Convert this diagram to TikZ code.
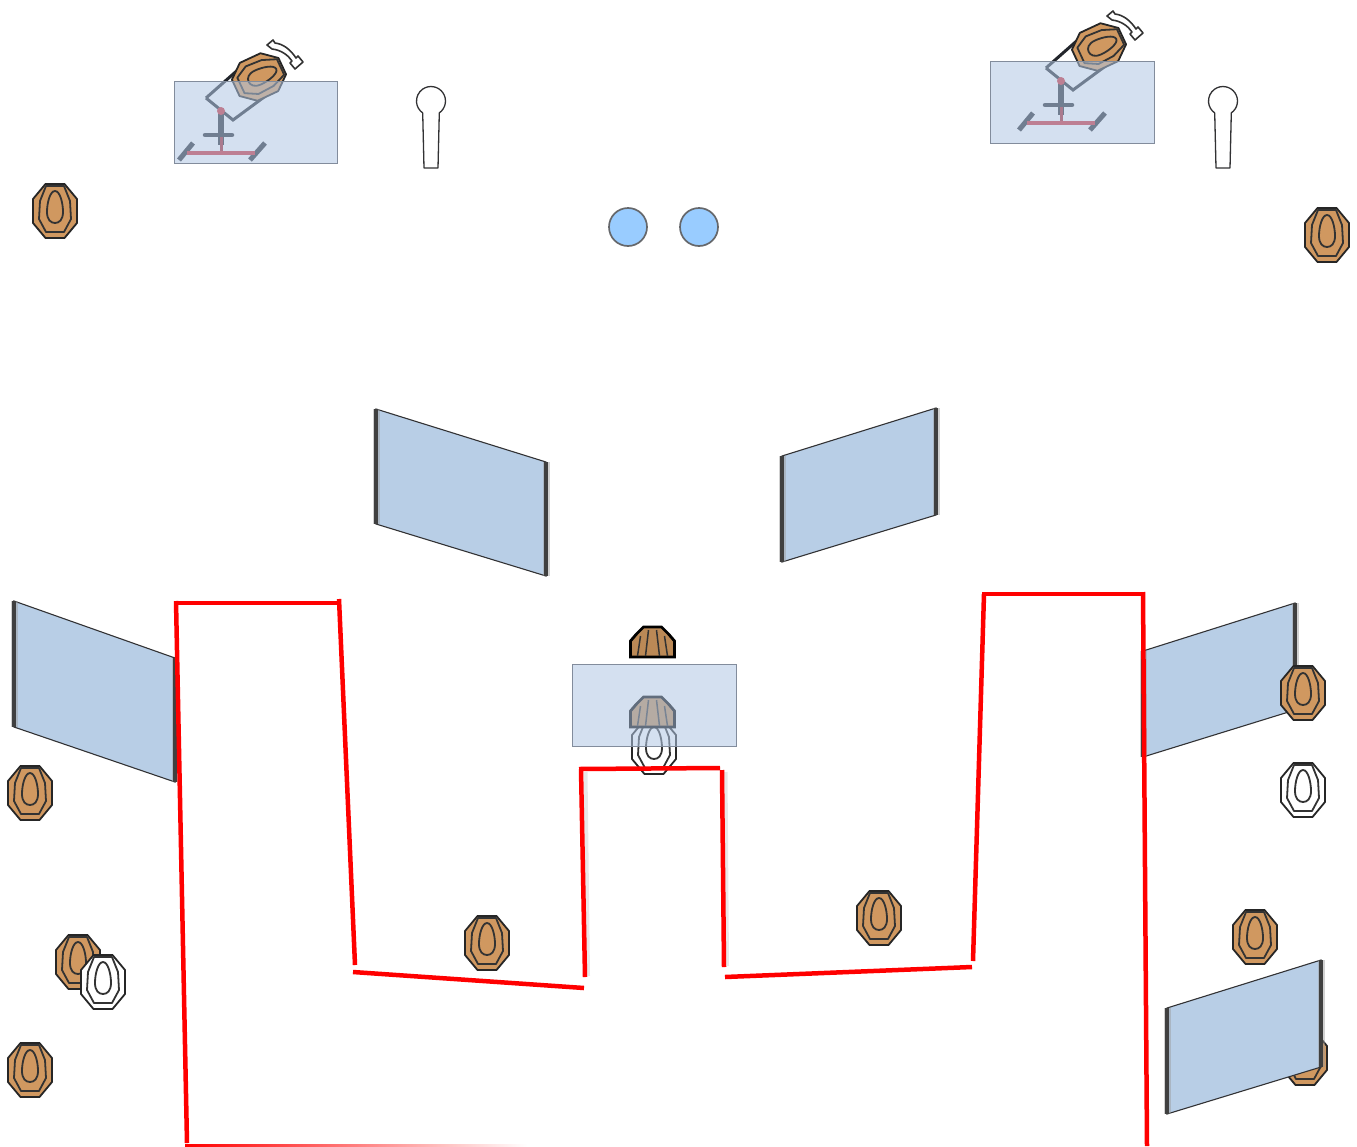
\documentclass[tikz,border=0pt]{standalone}
\usepackage{tikz}
\usetikzlibrary{calc}
\definecolor{hallbrown}{RGB}{208,152,96}
\definecolor{hallpanel}{RGB}{184,206,230}
\definecolor{hallbox}{RGB}{177,199,228}
\definecolor{hallframe}{RGB}{130,140,156}
\definecolor{halldark}{RGB}{50,50,52}
\definecolor{hallgray}{RGB}{35,38,44}
\definecolor{hallrose}{RGB}{205,40,50}
\definecolor{hallsky}{RGB}{153,204,255}
\definecolor{hallred}{RGB}{255,0,0}

\begin{document}
\begin{tikzpicture}[
      x=1pt, y=-1pt,
      target/.pic={
        \draw[fill=#1, draw=black!85, line width=1.8pt, line join=round]
          (-9.5,-27) -- (9.5,-27) -- (22,-12) -- (22,12) -- (9.5,27) -- (-9.5,27) -- (-22,12) -- (-22,-12) -- cycle;
        \draw[draw=black!80, line width=1.8pt, line join=round]
          (-9,-25) -- (9,-25) -- (15,-10) -- (16,8) -- (9,21) -- (-9,21) -- (-16,8) -- (-15,-10) -- cycle;
        \draw[draw=black!80, line width=1.8pt]
          (0,-20) .. controls (5,-20) and (8,-8) .. (8,1) .. controls (8,9) and (4,12) .. (0,12)
          .. controls (-4,12) and (-8,9) .. (-8,1) .. controls (-8,-8) and (-5,-20) .. (0,-20) -- cycle;
      },
      dome/.pic={
        \draw[fill=hallbrown!90!black, draw=black, line width=2.8pt, line join=miter]
          (-22,15) -- (22,15) -- (22,-1) -- (16,-8) -- (9,-15) -- (-9,-15) -- (-16,-8) -- (-22,-1) -- cycle;
        \draw[draw=black!80, line width=1.5pt]
          (-4,-12) -- (-7,14) (4,-12) -- (7,14) (-12,-6) -- (-15,14) (12,-6) -- (15,14);
      },
      tripod/.pic={
        \draw[hallgray, line width=3pt] (-15,-55) -- (12,-33) -- (50,-61) (-15,-55) -- (19,-85);
        \draw[hallgray, line width=6pt] (0,-40) -- (0,-8);
        \draw[hallrose!80!black, line width=3pt] (0,-20) -- (0,0);
        \draw[hallgray, line width=4.5pt, line cap=round] (-16,-18) -- (11,-18);
        \draw[hallgray, line width=5pt] (-42,7) -- (-28,-10) (29,7) -- (44,-10);
        \draw[hallrose, line width=3.5pt] (-34,0) -- (34,0);
        \fill[hallrose] (0,-42) circle (4);
      },
      swivel/.pic={
        \draw[fill=white, draw=black!80, line width=1.6pt, line join=round]
          (-18,-11) -- (-12,-16) -- (-10,-13) .. controls (-2,-12) and (5,-7) .. (11,2)
          -- (13,0) -- (18,6) -- (10,13) -- (5,7) -- (7,5) .. controls (3,-1) and (-4,-6) .. (-13,-7) -- cycle;
      },
      micstand/.pic={
        \draw[fill=white, draw=halldark, line width=1.3pt, line join=round]
          (-8.3,11.9) -- (-7,67) -- (7,67) -- (8.3,11.9)
          arc[start angle=55, end angle=-235, radius=14.5] -- cycle;
      },
      wallside/.style={line width=3.5pt, draw=black!75},
      wallglow/.style={line width=7pt, draw=black!40, draw opacity=.45},
      screenbox/.style={fill=hallbox, fill opacity=.55, draw=hallframe, line width=.7pt},
      redwall/.style={draw=hallred, line width=4.5pt},
      softedge/.style={draw=black!9, line width=4pt}
    ]
      \useasboundingbox (0,0) rectangle (1357,1146);

      % targets lying under the walls and boxes
      \foreach \tx/\ty in {55/211, 1327/235, 30/793, 487/943, 879/918, 1255/937, 78/962, 30/1070, 1305/1058}
        \pic at (\tx,\ty) {target=hallbrown};
      \foreach \tx/\ty in {1303/790, 103/982, 654/747}
        \pic at (\tx,\ty) {target=white};

      % tripods
      \pic at (221,153) {tripod};
      \pic at (1061,123) {tripod};
      \pic[rotate=-65, scale=.95] at (259,77) {target=hallbrown};
      \pic[rotate=-65, scale=.95] at (1099,47) {target=hallbrown};
      \pic at (285,56) {swivel};
      \pic at (1125,27) {swivel};

      % stands and balls
      \pic at (431,101) {micstand};
      \pic at (1223,101) {micstand};
      \draw[fill=hallsky, draw=hallgray!70, line width=1.7pt] (628,227) circle (19);
      \draw[fill=hallsky, draw=hallgray!70, line width=1.7pt] (699,227) circle (19);

      % walls
      \foreach \xa/\xb/\ya/\yb/\yc/\yd in {376/546/409/462/576/524, 782/936/456/408/515/562, 14/175/601/658/782/727, 1143/1295/651/603/710/757, 1167/1321/1008/960/1067/1114} {
        \draw[fill=hallpanel, draw=halldark, line width=1.1pt] (\xa,\ya) -- (\xb,\yb) -- (\xb,\yc) -- (\xa,\yd) -- cycle;
        \draw[wallglow] (\xa,\ya) -- (\xa,\yd) (\xb,\yb) -- (\xb,\yc);
        \draw[wallside] (\xa,\ya) -- (\xa,\yd) (\xb,\yb) -- (\xb,\yc);
      }
      \pic at (1303,693) {target=hallbrown};

      % domes and boxes
      \pic at (652.5,642) {dome};
      \pic at (652.5,712) {dome};
      \draw[screenbox] (174,81) rectangle (337.5,163.5);
      \draw[screenbox] (990,61) rectangle (1154.5,143.5);
      \draw[screenbox] (572,664) rectangle (736.5,746.5);

      % red outline
      \draw[softedge] (585.5,772) -- (588,976);
      \draw[softedge] (725.5,772) -- (727,966);
      \draw[redwall] (174,603) -- (339,603);
      \draw[redwall] (339,599) -- (355,965);
      \draw[redwall] (176,601) -- (187,1143);
      \draw[redwall] (353,972) -- (584,988);
      \draw[redwall] (585,977) -- (581,769);
      \draw[redwall] (579,769) -- (720,768);
      \draw[redwall] (722,770) -- (724,967);
      \draw[redwall] (725,977) -- (972,967);
      \draw[redwall] (973,961) -- (984,594);
      \draw[redwall] (982,594) -- (1144,594);
      \draw[redwall] (1143,592) -- (1147,1146);
      \shade[left color=hallred, middle color=hallred, right color=white] (185,1144) rectangle (527,1146);
    \end{tikzpicture}
\end{document}
